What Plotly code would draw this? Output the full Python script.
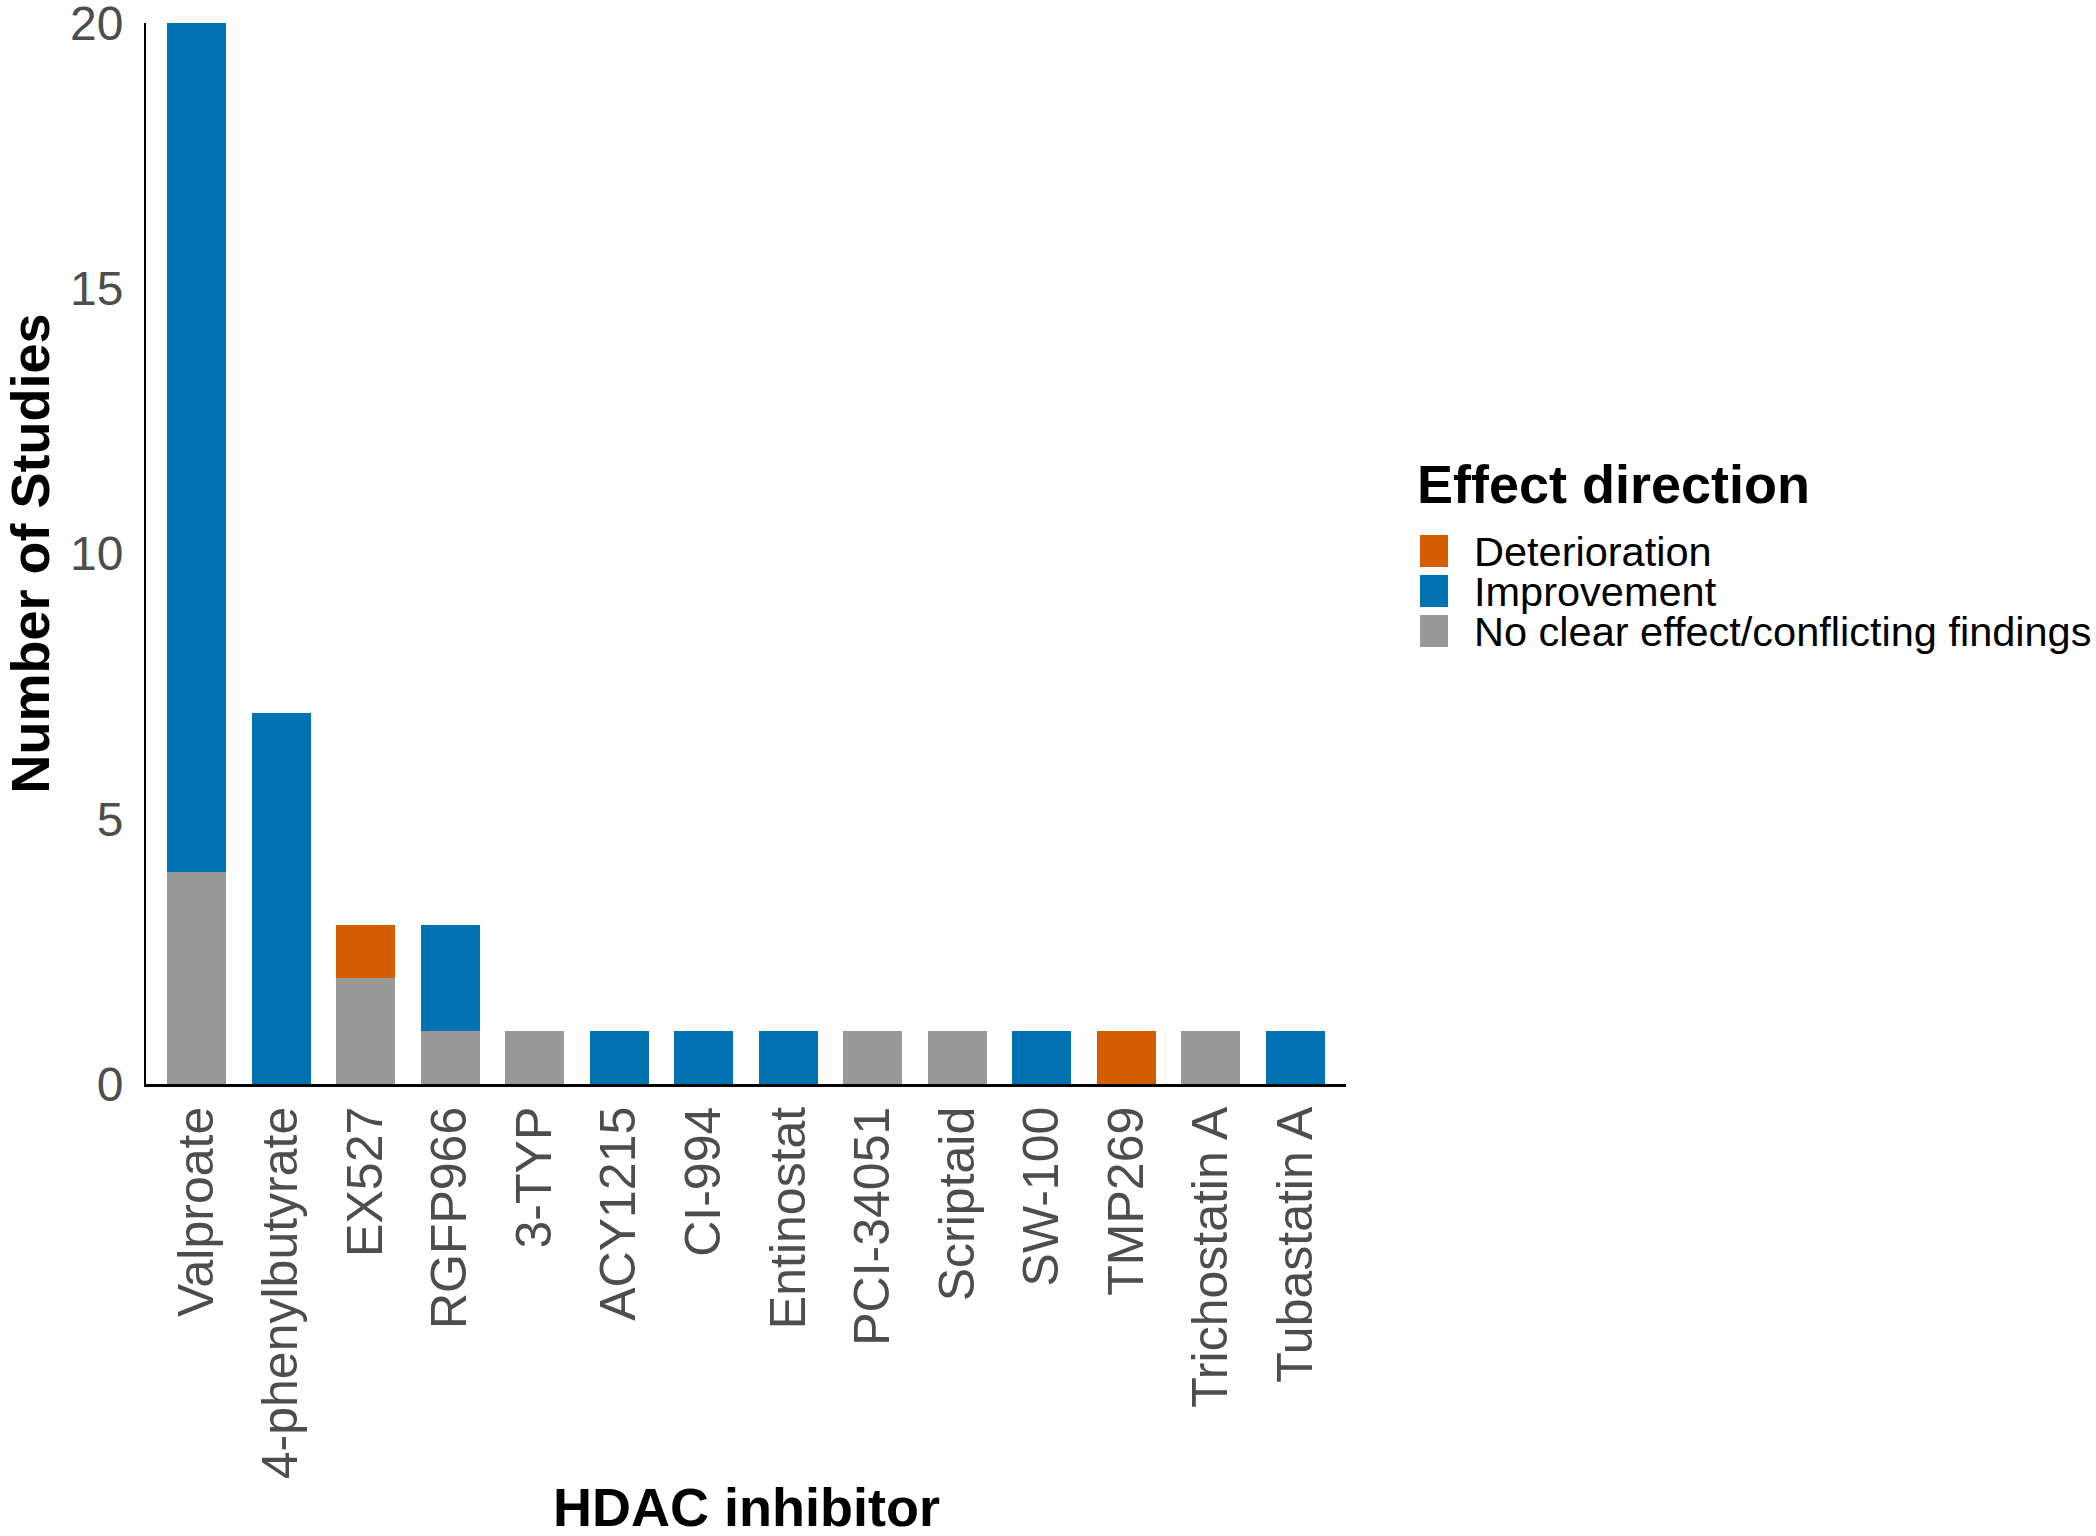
import plotly.graph_objects as go

# ---- data ----
inhibitors = ["Valproate", "4-phenylbutyrate", "EX527", "RGFP966", "3-TYP", "ACY1215",
              "CI-994", "Entinostat", "PCI-34051", "Scriptaid", "SW-100", "TMP269",
              "Trichostatin A", "Tubastatin A"]
no_clear = [4, 0, 2, 1, 1, 0, 0, 0, 1, 1, 0, 0, 1, 0]
improvement = [16, 7, 0, 2, 0, 1, 1, 1, 0, 0, 1, 0, 0, 1]
deterioration = [0, 0, 1, 0, 0, 0, 0, 0, 0, 0, 0, 1, 0, 0]
y_ticks = [0, 5, 10, 15, 20]
legend_labels = ["Deterioration", "Improvement", "No clear effect/conflicting findings"]

# ---- style ----
W, H = 2096, 1536
L, R, T, B = 146, 1346, 23, 1084  # plot area in px
COL = {"Deterioration": "#D55E00", "Improvement": "#0072B2",
       "No clear effect/conflicting findings": "#999999"}
FONT = "Liberation Sans, Arial, Helvetica, sans-serif"


def px_x(x):
    return (x - L) / (R - L)


def px_y(y):
    return (B - y) / (B - T)


fig = go.Figure()
for name, vals in [("No clear effect/conflicting findings", no_clear),
                   ("Improvement", improvement),
                   ("Deterioration", deterioration)]:
    fig.add_trace(go.Bar(x=inhibitors, y=vals, name=name, marker_color=COL[name],
                         marker_line_width=0, width=0.7, showlegend=False))

fig.update_layout(
    width=W, height=H, barmode="stack",
    margin=dict(l=L, r=W - R, t=T, b=H - B, pad=0, autoexpand=False),
    plot_bgcolor="white", paper_bgcolor="white",
    font=dict(family=FONT, color="#4D4D4D"),
)
fig.update_xaxes(
    type="category", range=[-0.6, len(inhibitors) - 0.4], automargin=False,
    showline=True, linecolor="black", linewidth=2.5, showgrid=False, zeroline=False,
    tickangle=-90, tickfont=dict(size=50, color="#4D4D4D", family=FONT),
    ticks="",
)
fig.update_yaxes(
    range=[0, 20], tickvals=y_ticks, automargin=False,
    showline=True, linecolor="black", linewidth=2,
    showgrid=False, zeroline=False, ticklabeloverflow="allow",
    tickfont=dict(size=48, color="#4D4D4D", family=FONT),
    ticks="outside", ticklen=11, tickcolor="rgba(0,0,0,0)",
)

# axis titles
fig.add_annotation(text="<b>HDAC inhibitor</b>", xref="paper", yref="paper",
                   x=0.5, y=px_y(1507), xanchor="center", yanchor="middle",
                   showarrow=False, font=dict(size=54, color="black", family=FONT))
fig.add_annotation(text="<b>Number of Studies</b>", xref="paper", yref="paper",
                   x=px_x(29), y=0.5, xanchor="center", yanchor="middle", textangle=-90,
                   showarrow=False, font=dict(size=54, color="black", family=FONT))

# legend (manual, to match tight ggplot spacing)
fig.add_annotation(text="<b>Effect direction</b>", xref="paper", yref="paper",
                   x=px_x(1415), y=px_y(484), xanchor="left", yanchor="middle",
                   showarrow=False, font=dict(size=54, color="black", family=FONT))
centers = [551, 591, 631]
for lab, cy in zip(legend_labels, centers):
    fig.add_shape(type="rect", xref="paper", yref="paper",
                  x0=px_x(1420), x1=px_x(1448), y0=px_y(cy + 16), y1=px_y(cy - 16),
                  fillcolor=COL[lab], line_width=0)
    fig.add_annotation(text=lab, xref="paper", yref="paper",
                       x=px_x(1472), y=px_y(cy), xanchor="left", yanchor="middle",
                       showarrow=False, font=dict(size=41.5, color="black", family=FONT))

fig.write_html("out.html", config={"displayModeBar": False},
               post_script="document.body.style.margin='0';document.body.style.overflow='hidden';")
